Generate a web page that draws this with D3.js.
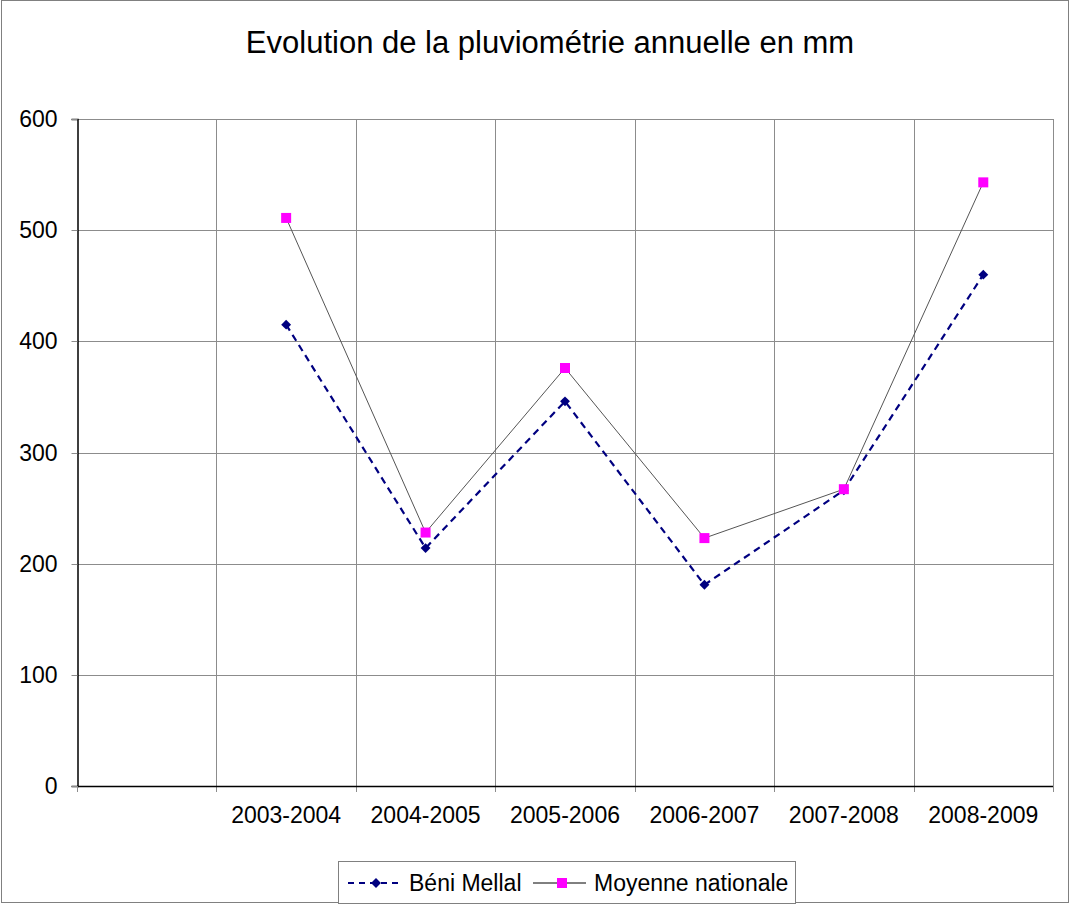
<!DOCTYPE html>
<html>
<head>
<meta charset="utf-8">
<script src="https://cdn.jsdelivr.net/npm/d3@7"></script>
<style>
  body { margin: 0; background: #fff; }
  text { font-family: "Liberation Sans", Arial, sans-serif; fill: #000; }
</style>
</head>
<body>
<div id="chart-area"></div>
<script>
var years = ["2003-2004", "2004-2005", "2005-2006", "2006-2007", "2007-2008", "2008-2009"];
var beniMellal = [415, 214, 346, 181, 266, 460];
var moyenneNationale = [511, 228, 376, 223, 267, 543];
var yTicks = [0, 100, 200, 300, 400, 500, 600];

var W = 1071, H = 904;
var margin = {top: 119, right: 18, bottom: 118, left: 77},
    width = W - margin.left - margin.right,
    height = H - margin.top - margin.bottom;

var svg = d3.select("#chart-area")
    .append("svg")
        .attr("width", W)
        .attr("height", H);

// outer frame
svg.append("rect")
    .attr("x", 1.5).attr("y", 0.5)
    .attr("width", W - 4).attr("height", H - 2)
    .attr("fill", "#fff")
    .attr("stroke", "#808080")
    .attr("stroke-width", 1);

svg.append("text")
    .attr("x", 550)
    .attr("y", 53)
    .style("text-anchor", "middle")
    .style("font-size", "31px")
    .text("Evolution de la pluviométrie annuelle en mm");

var g = svg.append("g")
    .attr("transform", "translate(" + margin.left + "," + margin.top + ")");

// a blank first category, like the original sheet
var x = d3.scaleBand()
    .domain([""].concat(years))
    .range([0, width]);

var y = d3.scaleLinear()
    .domain([0, 600])
    .range([height, 0]);

// horizontal grid
g.append("g")
    .selectAll("line")
    .data(yTicks.filter(d => d > 0))
    .enter().append("line")
    .attr("x1", 0).attr("x2", width)
    .attr("y1", d => Math.round(y(d)) + 0.5)
    .attr("y2", d => Math.round(y(d)) + 0.5)
    .attr("stroke", "#8c8c8c")
    .attr("stroke-width", 1);

// vertical grid (band edges), running past the axis as tick marks
var edges = x.domain().map(d => x(d)).concat([width]);
g.append("g")
    .selectAll("line")
    .data(edges.slice(1))
    .enter().append("line")
    .attr("x1", d => Math.round(d) + 0.5)
    .attr("x2", d => Math.round(d) + 0.5)
    .attr("y1", 0).attr("y2", height + 6)
    .attr("stroke", "#8c8c8c")
    .attr("stroke-width", 1);

// y axis
var yAxis = g.append("g")
    .attr("transform", "translate(0.5,0)")
    .call(d3.axisLeft(y).tickValues(yTicks).tickSize(6).tickPadding(14));
yAxis.select(".domain").attr("stroke", "#000").attr("stroke-width", 1.5);
yAxis.selectAll(".tick line").attr("stroke", "#8c8c8c");
yAxis.selectAll(".tick text").style("font-size", "23px");
yAxis.selectAll(".tick").attr("transform", d => "translate(0," + (Math.round(y(d)) + 0.5) + ")");

// x axis line
g.append("line")
    .attr("x1", 0).attr("x2", width)
    .attr("y1", height + 0.5).attr("y2", height + 0.5)
    .attr("stroke", "#000").attr("stroke-width", 1.5);
g.append("line")
    .attr("x1", 0.5).attr("x2", 0.5)
    .attr("y1", height).attr("y2", height + 6)
    .attr("stroke", "#8c8c8c");

// x labels
g.append("g")
    .selectAll("text")
    .data(years)
    .enter().append("text")
    .attr("x", d => x(d) + x.bandwidth() / 2)
    .attr("y", height + 37)
    .style("text-anchor", "middle")
    .style("font-size", "23px")
    .text(d => d);

var cx = d => x(d) + x.bandwidth() / 2;

var line = d3.line()
    .x((d, i) => cx(years[i]))
    .y(d => y(d));

// Moyenne nationale
g.append("path")
    .datum(moyenneNationale)
    .attr("fill", "none")
    .attr("stroke", "#555")
    .attr("stroke-width", 1)
    .attr("d", line);

// Béni Mellal
g.append("path")
    .datum(beniMellal)
    .attr("fill", "none")
    .attr("stroke", "#000080")
    .attr("stroke-width", 2.2)
    .attr("stroke-dasharray", "7,5")
    .attr("d", line);

g.append("g")
    .selectAll("path")
    .data(beniMellal)
    .enter().append("path")
    .attr("transform", (d, i) => "translate(" + cx(years[i]) + "," + y(d) + ") rotate(45)")
    .attr("d", "M-3.5,-3.5h7v7h-7z")
    .attr("fill", "#000080");

g.append("g")
    .selectAll("rect")
    .data(moyenneNationale)
    .enter().append("rect")
    .attr("x", (d, i) => cx(years[i]) - 5)
    .attr("y", d => y(d) - 5)
    .attr("width", 10).attr("height", 10)
    .attr("fill", "#ff00ff");

// legend
var legend = svg.append("g").attr("transform", "translate(338,861)");
legend.append("rect")
    .attr("x", 0.5).attr("y", 0.5)
    .attr("width", 457).attr("height", 42)
    .attr("fill", "#fff")
    .attr("stroke", "#808080");

var ly = 22;
legend.append("line")
    .attr("x1", 10).attr("x2", 63).attr("y1", ly).attr("y2", ly)
    .attr("stroke", "#000080").attr("stroke-width", 2)
    .attr("stroke-dasharray", "6,5");
legend.append("path")
    .attr("transform", "translate(38," + ly + ") rotate(45)")
    .attr("d", "M-3.5,-3.5h7v7h-7z")
    .attr("fill", "#000080");
legend.append("text")
    .attr("x", 71).attr("y", ly + 8)
    .style("font-size", "23px")
    .text("Béni Mellal");

legend.append("line")
    .attr("x1", 195).attr("x2", 248).attr("y1", ly).attr("y2", ly)
    .attr("stroke", "#000").attr("stroke-width", 1);
legend.append("rect")
    .attr("x", 219).attr("y", ly - 5)
    .attr("width", 10).attr("height", 10)
    .attr("fill", "#ff00ff");
legend.append("text")
    .attr("x", 256).attr("y", ly + 8)
    .style("font-size", "23px")
    .text("Moyenne nationale");
</script>
</body>
</html>
